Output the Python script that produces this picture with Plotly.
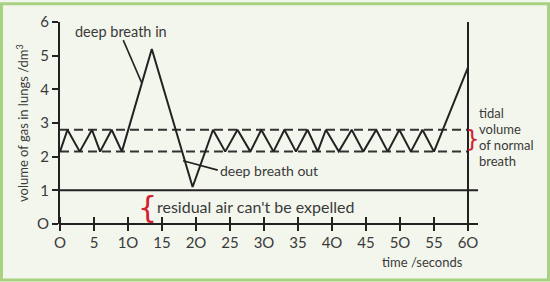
import plotly.graph_objects as go

# ---- data ----
time_s = [0, 1.1, 2.9, 4.7, 5.9, 7.6, 9.1, 13.5, 19.5, 22.5, 24.3, 26.1, 28.0, 29.6,
          31.4, 33.0, 34.7, 36.4, 37.9, 39.1, 41.0, 42.9, 44.6, 46.5, 48.2, 49.9,
          51.6, 53.3, 55.0, 60]
volume = [2.15, 2.8, 2.15, 2.8, 2.15, 2.8, 2.15, 5.2, 1.1, 2.8, 2.15, 2.8, 2.15, 2.8,
          2.15, 2.8, 2.15, 2.8, 2.15, 2.8, 2.15, 2.8, 2.15, 2.8, 2.15, 2.8,
          2.15, 2.8, 2.15, 4.65]
tidal_low, tidal_high = 2.15, 2.8
residual = 1.0
x_ticks = list(range(0, 61, 5))
y_ticks = list(range(0, 7))
x_tick_text = [str(v).replace("0", "O") for v in x_ticks]
y_tick_text = [str(v).replace("0", "O") for v in y_ticks]

W, H = 550, 282
ML, MR, MT, MB = 60, 82, 20, 58
PW, PH = W - ML - MR, H - MT - MB

def px(xp):  # pixel x -> paper x
    return (xp - ML) / PW

def py(yp):  # pixel y -> paper y
    return (H - MB - yp) / PH

INK = "#222222"
TXT = "#3a3a3a"
RED = "#d0202e"
FONT = "Lato"

fig = go.Figure()

# tidal volume dashed lines
for v in (tidal_low, tidal_high):
    fig.add_trace(go.Scatter(x=[0, 60], y=[v, v], mode="lines",
                             line=dict(color="#333333", width=2, dash="9px,5px"),
                             hoverinfo="skip", showlegend=False))

# main trace
fig.add_trace(go.Scatter(x=time_s, y=volume, mode="lines",
                         line=dict(color=INK, width=2), showlegend=False,
                         cliponaxis=False))

# crossing tick marks on x axis
fig.add_trace(go.Scatter(x=x_ticks, y=[0] * len(x_ticks), mode="markers",
                         marker=dict(symbol="line-ns-open", size=10, color=INK,
                                     line=dict(color=INK, width=2)),
                         cliponaxis=False, showlegend=False, hoverinfo="skip"))

shapes = []
# background border
shapes.append(dict(type="rect", xref="paper", yref="paper",
                   x0=px(1.5), x1=px(W - 1.5), y0=py(H - 1.5), y1=py(1.5),
                   line=dict(color="#a8d282", width=3), layer="below"))
# x axis line extended, residual line extended
for v in (0, residual):
    shapes.append(dict(type="line", xref="x domain", yref="y domain",
                       x0=0, x1=px(478), y0=v / 6, y1=v / 6,
                       line=dict(color=INK, width=2)))
# right vertical line at 60 s
shapes.append(dict(type="line", xref="x domain", yref="y domain",
                   x0=1, x1=1, y0=0, y1=1, line=dict(color=INK, width=2)))
# pointer lines
shapes.append(dict(type="line", xref="x", yref="y", x0=9.3, y0=5.46, x1=12.0, y1=4.2,
                   line=dict(color=INK, width=1.6)))
shapes.append(dict(type="line", xref="x", yref="y", x0=18.1, y0=1.88, x1=23.2, y1=1.6,
                   line=dict(color=INK, width=1.6)))

ann = []
f = dict(family=FONT, size=14.5, color=TXT)
ann.append(dict(x=9.0, y=5.72, xref="x", yref="y", text="deep breath in",
                showarrow=False, font=f, xanchor="center", yanchor="middle"))
ann.append(dict(x=23.3, y=1.6, xref="x", yref="y", text="deep breath out",
                showarrow=False, font=dict(family=FONT, size=14, color=TXT),
                xanchor="left", yanchor="middle"))
ann.append(dict(x=14.0, y=0.51, xref="x", yref="y", text="residual air can't be expelled",
                showarrow=False, font=dict(family=FONT, size=16, color=TXT),
                xanchor="left", yanchor="middle"))
ann.append(dict(x=12.9, y=0.5, xref="x", yref="y", text="{",
                showarrow=False, font=dict(family="DejaVu Sans", size=30, color=RED),
                xanchor="center", yanchor="middle"))
ann.append(dict(x=px(472), y=py(138), xref="paper", yref="paper", text="}",
                showarrow=False, font=dict(family="DejaVu Sans", size=23, color=RED),
                xanchor="center", yanchor="middle"))
for i, line in enumerate(["tidal", "volume", "of normal", "breath"]):
    ann.append(dict(x=px(477), y=py(112 + i * 16), xref="paper", yref="paper", text=line,
                    showarrow=False, font=dict(family=FONT, size=13, color=TXT),
                    xanchor="left", yanchor="middle"))
ann.append(dict(x=px(465), y=py(262), xref="paper", yref="paper", text="time /seconds",
                showarrow=False, font=dict(family=FONT, size=13, color=TXT),
                xanchor="right", yanchor="middle"))
ann.append(dict(x=px(22), y=py(122), xref="paper", yref="paper",
                text="volume of gas in lungs /dm<sup>3</sup>", textangle=-90,
                showarrow=False, font=dict(family=FONT, size=13, color=TXT),
                xanchor="center", yanchor="middle"))

fig.update_layout(
    width=W, height=H,
    margin=dict(l=ML, r=MR, t=MT, b=MB, pad=0),
    paper_bgcolor="#f3f6ec", plot_bgcolor="#f3f6ec",
    shapes=shapes, annotations=ann, showlegend=False,
    xaxis=dict(range=[0, 60], tickvals=x_ticks, ticktext=x_tick_text,
               showgrid=False, zeroline=False, showline=False,
               ticks="outside", ticklen=5, tickwidth=2, tickcolor=INK,
               tickfont=dict(family=FONT, size=15, color=TXT)),
    yaxis=dict(range=[0, 6], tickvals=y_ticks, ticktext=y_tick_text,
               showgrid=False, zeroline=False, showline=True, linecolor=INK, linewidth=2,
               ticks="outside", ticklen=6, tickwidth=2, tickcolor=INK,
               tickfont=dict(family=FONT, size=15, color=TXT)),
)

fig.write_html("out.html")
